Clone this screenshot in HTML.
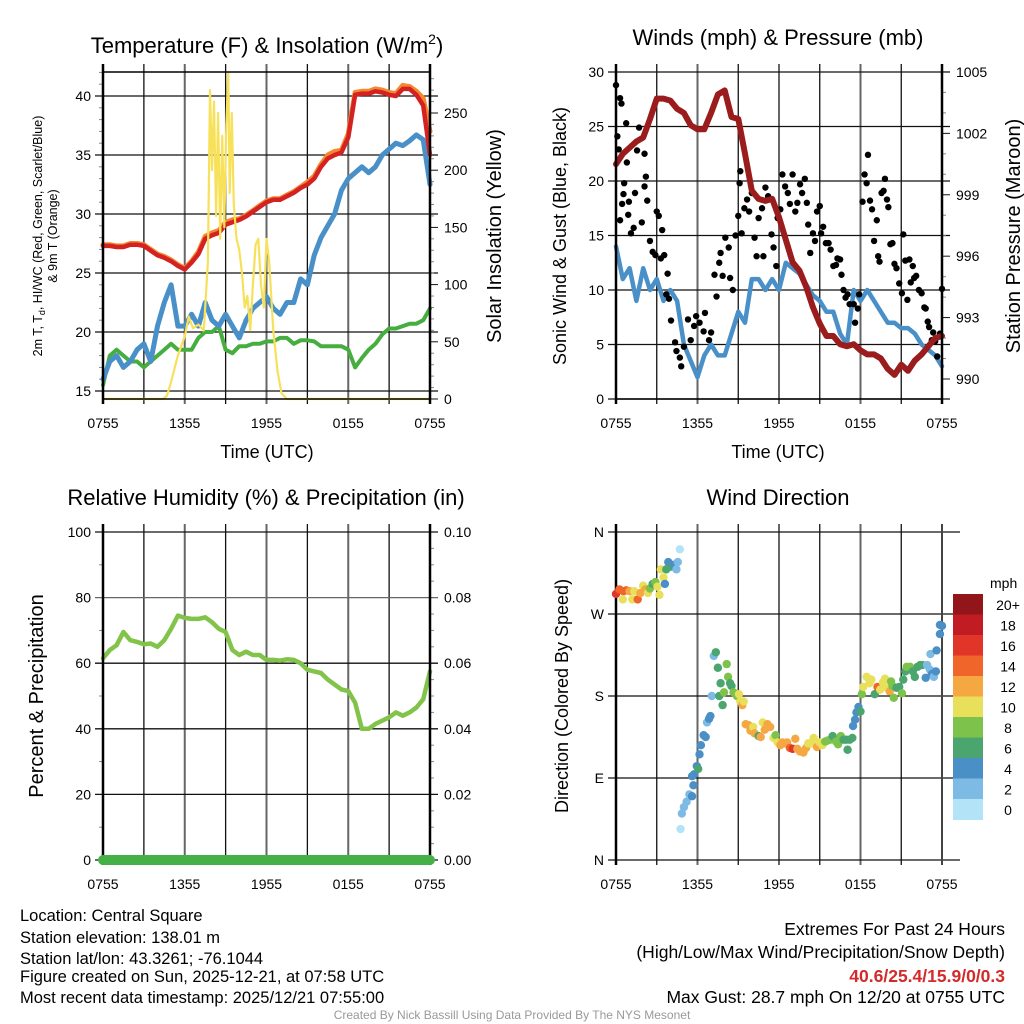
<!DOCTYPE html>
<html><head><meta charset="utf-8">
<style>
html,body{margin:0;padding:0;background:#fff;}
svg{display:block;font-family:"Liberation Sans",Arial,sans-serif;}
</style></head>
<body>
<svg id="chart" width="1024" height="1024" viewBox="0 0 1024 1024" xmlns="http://www.w3.org/2000/svg">
<rect width="1024" height="1024" fill="#fff"/>
<text x="267" y="53" font-size="22" text-anchor="middle">Temperature (F) &amp; Insolation (W/m<tspan font-size="14" dy="-9">2</tspan><tspan dy="9">)</tspan></text>
<text x="778" y="45" font-size="22" text-anchor="middle">Winds (mph) &amp; Pressure (mb)</text>
<text x="266" y="505" font-size="22" text-anchor="middle">Relative Humidity (%) &amp; Precipitation (in)</text>
<text x="778" y="505" font-size="22" text-anchor="middle">Wind Direction</text>

<text x="267" y="458" font-size="18" text-anchor="middle">Time (UTC)</text>
<text x="778" y="458" font-size="18" text-anchor="middle">Time (UTC)</text>

<text transform="translate(42,236) rotate(-90)" font-size="12.5" text-anchor="middle">2m T, T<tspan font-size="9" dy="3">d</tspan><tspan dy="-3">, HI/WC (Red, Green, Scarlet/Blue)</tspan></text>
<text transform="translate(57,236) rotate(-90)" font-size="12.5" text-anchor="middle">&amp; 9m T (Orange)</text>
<text transform="translate(501,236) rotate(-90)" font-size="20" text-anchor="middle">Solar Insolation (Yellow)</text>
<text transform="translate(566,236) rotate(-90)" font-size="18" text-anchor="middle">Sonic Wind &amp; Gust (Blue, Black)</text>
<text transform="translate(1020,236) rotate(-90)" font-size="20" text-anchor="middle">Station Pressure (Maroon)</text>
<text transform="translate(43,696) rotate(-90)" font-size="20" text-anchor="middle">Percent &amp; Precipitation</text>
<text transform="translate(568,696) rotate(-90)" font-size="18" text-anchor="middle">Direction (Colored By Speed)</text>

<g font-size="16.5">
<text x="20" y="921">Location: Central Square</text>
<text x="20" y="943">Station elevation: 138.01 m</text>
<text x="20" y="964">Station lat/lon: 43.3261; -76.1044</text>
<text x="20" y="982">Figure created on Sun, 2025-12-21, at 07:58 UTC</text>
<text x="20" y="1003">Most recent data timestamp: 2025/12/21 07:55:00</text>
</g>
<g font-size="17.5" text-anchor="end">
<text x="1005" y="935">Extremes For Past 24 Hours</text>
<text x="1005" y="958">(High/Low/Max Wind/Precipitation/Snow Depth)</text>
<text x="1005" y="982" fill="#d42a2a" font-weight="bold">40.6/25.4/15.9/0/0.3</text>
<text x="1005" y="1003">Max Gust: 28.7 mph On 12/20 at 0755 UTC</text>
</g>
<text x="512" y="1019" font-size="12" fill="#999" text-anchor="middle">Created By Nick Bassill Using Data Provided By The NYS Mesonet</text>
<g id="plots"></g>
</svg>
<script>
// ---- data ----
const halfHours = [0,0.5,1,1.5,2,2.5,3,3.5,4,4.5,5,5.5,6,6.5,7,7.5,8,8.5,9,9.5,10,10.5,11,11.5,12,12.5,13,13.5,14,14.5,15,15.5,16,16.5,17,17.5,18,18.5,19,19.5,20,20.5,21,21.5,22,22.5,23,23.5,24];
const timeTickLabels = ["0755","1355","1955","0155","0755"];
const tempRed = [27.3,27.3,27.2,27.2,27.4,27.4,27.3,26.9,26.5,26.3,26.0,25.6,25.3,25.9,26.6,27.9,28.2,28.4,29.1,29.3,29.5,29.8,30.2,30.6,31.0,31.2,31.2,31.5,31.8,32.2,32.5,33.0,34.0,34.7,35.0,35.2,36.5,40.1,40.2,40.2,40.4,40.3,40.1,40.0,40.6,40.6,40.1,39.2,35.0];
const tempOrange = [27.4,27.4,27.3,27.3,27.5,27.5,27.4,27.0,26.6,26.4,26.1,25.7,25.4,26.0,26.8,28.1,28.4,28.6,29.3,29.5,29.6,29.9,30.3,30.7,31.1,31.3,31.3,31.6,31.9,32.3,32.7,33.2,34.2,35.0,35.3,35.4,36.8,40.3,40.4,40.4,40.6,40.5,40.3,40.2,40.9,40.8,40.4,39.8,37.0];
const dewBlue = [16,17.5,18,17,17.5,18.5,19,17.5,20.5,22.5,24.0,20.5,20.5,21.5,20.5,22.5,21,20.5,21.5,20.5,19.5,21,22,22.5,23,22,21.5,22.5,22.5,24.5,24,26.5,28,29,30,32,33,33.5,34,33.5,34,35,35.5,36,35.8,36.2,36.7,36.3,32.5];
const dewGreen = [15.5,18,18.5,18,17.5,17.5,17,17.5,18,18.5,19,18.5,18.5,18.5,19.5,20,20,20.5,18.5,18.2,18.8,18.8,19,19,19.2,19.2,19.5,19.5,19,19.3,19.3,19.2,18.8,18.8,18.8,18.8,18.5,17,17.8,18.5,19,19.8,20.3,20.3,20.5,20.7,20.7,21,22];
const solarHours = [0,4.4,4.7,5,5.5,6,6.3,6.6,7,7.4,7.7,7.85,8,8.15,8.3,8.45,8.6,8.75,8.9,9.05,9.2,9.3,9.45,9.6,9.8,10.0,10.2,10.4,10.6,10.8,11.0,11.2,11.4,11.6,11.8,12.0,12.2,12.5,12.8,13.1,13.5,24];
const solarVals = [0,0,3,15,38,55,72,62,65,60,120,270,200,260,160,250,140,230,150,240,285,180,250,170,140,130,110,80,90,60,100,135,140,100,80,140,120,60,25,5,0,0];
const windBlue = [14,11,12,9,12,10,11,9,10,9,5,3.5,2,4,5,4,4,6,8,7,11,11,10,11,10,12.5,12,11.5,10.5,9.5,9,8,8,6,5,10,9,10,9,8,7,7,6.5,6.5,6,5,4.5,4,3];
const pressure = [1000.5,1001.0,1001.3,1001.6,1001.8,1002.7,1003.7,1003.7,1003.6,1003.2,1003.0,1002.4,1002.2,1002.2,1003.0,1003.9,1004.1,1002.8,1002.7,1001.0,999.2,998.8,998.7,998.8,997.9,996.8,995.7,995.3,994.5,993.5,992.7,992.1,992.1,991.7,991.6,991.7,991.4,991.2,991.2,991.0,990.5,990.2,990.7,990.4,990.9,991.2,991.6,992.0,992.1];
const gustHours = [0,0.1,0.2,0.3,0.4,0.75,0.8,0.6,0.55,0.45,0.3,0.95,0.9,1.1,1.3,1.4,1.55,1.7,1.9,2.1,2.1,2.2,2.3,2.5,2.7,2.9,3.0,3.15,3.3,3.4,3.55,3.8,3.7,3.9,4.05,4.35,4.45,4.7,4.8,5.0,5.3,5.5,5.75,5.9,6.15,6.45,6.55,6.85,7.0,7.25,7.4,7.6,7.7,7.85,8.05,8.3,8.4,8.6,8.8,9.0,9.1,9.15,9.25,9.45,9.65,9.8,10.0,10.2,10.35,10.5,10.75,10.85,11.0,11.2,11.45,11.6,11.8,11.9,12.1,12.25,12.45,12.65,12.8,13.0,13.2,13.35,13.55,13.7,13.9,14.05,14.15,14.3,14.5,14.65,14.8,15.0,15.1,15.25,15.45,15.65,15.8,16.0,16.2,16.3,16.5,16.6,16.75,16.9,17.05,17.2,17.5,17.6,17.8,17.9,18.15,18.3,18.45,18.55,18.7,18.85,19.0,19.2,19.3,19.4,19.55,19.7,19.8,19.95,20.05,20.2,20.35,20.5,20.65,20.85,21.05,21.15,21.3,21.45,21.6,21.7,21.85,21.95,22.1,22.3,22.5,22.7,22.8,22.95,23.05,23.25,23.35,23.5,23.65,23.85,24.0];
const gusts = [28.8,24.1,22.9,27.6,27.1,25.3,21.7,19.8,18.8,17.9,16.4,18.1,16.9,15.2,15.7,18.9,22.8,24.9,16.2,19.5,22.5,20.4,18.2,14.5,13.5,13.2,17.2,16.8,12.9,15.5,13.2,11.5,9.6,9.2,7.2,5.2,4.4,3.8,3.0,4.8,7.3,5.4,6.7,7.6,7.0,6.2,7.9,5.4,6.1,11.4,9.4,12.5,13.4,11.3,14.8,13.9,11.1,10.0,15.0,16.8,19.8,20.9,15.2,17.5,18.3,17.2,18.9,14.8,13.1,16.6,17.5,13.1,19.4,18.6,15.1,13.9,12.2,16.6,17.4,20.6,19.5,18.9,17.9,20.6,17.2,18.0,19.7,18.9,20.2,18.0,16.0,13.4,15.2,14.5,17.2,17.7,15.2,15.8,14.3,14.3,13.7,12.2,12.3,12.9,12.8,11.4,10.0,9.3,9.6,8.7,8.7,7.0,8.3,9.6,18.1,20.6,19.8,22.4,18.2,17.4,14.5,16.4,13.1,12.6,18.9,19.1,20.2,18.3,17.6,14.2,14.3,12.4,12.0,10.6,9.7,15.1,12.7,9.1,12.8,10.7,12.2,11.1,11.3,10.0,9.7,8.4,8.3,7.1,6.6,5.4,6.1,5.3,3.9,6.0,10.1];
const rh = [61.5,64,65.5,69.5,67,66.5,65.8,66,65,67,70.5,74.5,73.8,73.5,73.5,74,72.5,70.5,69.5,64,62.5,63.5,62.5,62.5,61,61,60.8,61.2,61,60,58,57.5,57,55,53.5,52,51.5,48,40,40,41.5,42.5,43.5,45,44,45,46.5,49,57.5];
const precip = [0,0,0,0,0,0,0,0,0,0,0,0,0,0,0,0,0,0,0,0,0,0,0,0,0,0,0,0,0,0,0,0,0,0,0,0,0,0,0,0,0,0,0,0,0,0,0,0,0];
const dirHours = [0,0.25,0.55,0.75,0.5,1.0,1.2,1.35,1.6,1.8,2.0,2.15,2.35,2.5,2.7,2.9,3.05,3.2,3.3,3.5,3.6,3.7,3.85,4.05,4.25,4.45,4.55,4.7,4.75,4.85,5.0,5.2,5.4,5.6,5.7,5.6,5.75,5.95,6.05,6.15,6.25,6.45,6.6,6.7,6.85,6.95,7.05,7.2,7.35,7.5,7.6,7.7,7.85,7.95,8.15,8.25,8.4,8.5,8.65,8.9,9.05,9.15,9.3,9.4,9.55,9.75,9.9,10.1,10.2,10.5,10.65,10.8,10.95,11.15,11.35,11.6,11.75,11.9,12.1,12.25,12.45,12.6,12.8,13.0,13.2,13.35,13.55,13.8,14.0,14.15,14.4,14.55,14.8,15.0,15.2,15.4,15.55,15.75,15.95,16.2,16.35,16.55,16.75,16.95,17.05,17.2,17.4,17.45,17.6,17.7,17.85,18.0,18.1,18.2,18.45,18.65,18.8,19.05,19.25,19.45,19.65,19.8,19.95,20.15,20.25,20.35,20.45,20.65,20.85,21.05,21.15,21.3,21.4,21.65,21.85,22.0,22.2,22.4,22.55,22.8,22.9,23.1,23.25,23.4,23.55,23.15,23.6,23.85,24.0,23.85];
const dirDegrees = [292,297,295,296,286,295,286,295,286,293,301,297,293,298,303,305,300,291,319,310,303,319,327,322,324,319,327,341,34,51,58,64,72,70,82,92,94,103,100,116,126,137,135,151,155,158,180,224,228,211,180,194,170,184,215,201,194,191,184,180,182,174,170,174,149,148,142,146,139,136,135,151,143,149,146,134,137,129,126,129,128,129,123,122,133,122,119,118,123,128,128,134,124,129,126,130,131,132,136,130,127,136,132,132,121,132,134,147,154,162,168,163,182,190,201,194,198,182,190,187,195,199,189,185,196,191,178,189,190,183,198,207,212,212,207,201,212,214,214,200,214,209,204,201,207,226,230,248,257,258];
const dirSpeeds = [17,14,14,14,10,12,10,10,14,12,10,12,10,8,6,8,10,10,10,10,4,6,4,6,4,2,2,0,0,2,2,2,2,4,4,4,4,4,6,4,4,4,4,2,4,4,2,2,6,6,6,6,6,8,8,8,6,6,8,8,10,10,12,10,12,12,12,10,12,6,12,10,12,12,12,10,8,10,12,12,12,12,14,16,12,12,12,12,12,10,10,10,12,10,10,8,8,8,6,8,8,8,6,6,6,6,6,4,4,4,4,6,8,10,10,10,10,6,14,10,10,10,10,12,8,8,8,6,6,8,6,6,8,8,6,6,6,6,6,4,2,2,4,2,4,2,4,4,4,4,4,4];
const speedBins = ["0","2","4","6","8","10","12","14","16","18","20+"];
const binColors = ["#b3e3f7","#7dbbe5","#4a8fc6","#4aa56e","#7dc24a","#e8e05a","#f5a742","#f06529","#e03528","#c11b24","#921519"];

const NS="http://www.w3.org/2000/svg";
const root=document.getElementById('plots');
function mk(tag,attrs,parent){const e=document.createElementNS(NS,tag);for(const k in attrs)e.setAttribute(k,attrs[k]);(parent||root).appendChild(e);return e;}
function txt(s,attrs,parent){const e=mk('text',attrs,parent);e.textContent=s;return e;}

function panel(name,L,R,T,B){
  const g=mk('g',{});
  
  
  const xs=h=>L+(R-L)*h/24;
  for(let h=0;h<=24;h+=3){
    const ln=mk('line',{x1:xs(h),x2:xs(h),y1:T-8,y2:B+5,stroke:(h%6===0?'#666':'#111'),'stroke-width':(h%6===0?2:1.3)},g);
    
    
  }
  timeTickLabels.forEach((lab,i)=>{
    const t=txt(lab,{x:xs(i*6),y:B+29,'font-size':14,'text-anchor':'middle'},g);
    
    
  });
  return {g,xs};
}
function hgrid(g,L,R,y,lab,side,color){
  mk('line',{x1:L-8,x2:R+8,y1:y,y2:y,stroke:color||'#111','stroke-width':1.3},g);
  if(lab!==null){
    const t=txt(lab,{x:side==='r'?R+14:L-12,y:y+5,'font-size':14,'text-anchor':side==='r'?'start':'end'},g);
    
    
  }
}
function pathOf(xv,yv,xs,ys){return xv.map((h,i)=>(i?'L':'M')+xs(h).toFixed(1)+','+ys(yv[i]).toFixed(1)).join('');}
function line(g,name,xv,yv,xs,ys,color,w){
  const p=mk('path',{d:pathOf(xv,yv,xs,ys),fill:'none',stroke:color,'stroke-width':w,'stroke-linejoin':'round','stroke-linecap':'round'},g);
  
  
}

// ---- Panel 1: temperature ----
(function(){
  const L=103,R=430,T=72,B=399;
  const {g,xs}=panel('temperature-panel',L,R,T,B);
  const ys=v=>96+(40-v)*11.8;
  const ysR=v=>B-v*1.144;
  [15,20,25,30,35,40].forEach(v=>hgrid(g,L,R,ys(v),String(v),'l'));
  [0,50,100,150,200,250].forEach(v=>{mk('line',{x1:R,x2:R+8,y1:ysR(v),y2:ysR(v),stroke:'#111'},g);txt(String(v),{x:R+14,y:ysR(v)+5,'font-size':14},g);});
  for(let v=10;v<290;v+=10){if(v%50)mk('line',{x1:R,x2:R+4,y1:ysR(v),y2:ysR(v),stroke:'#888'},g);}
  for(let v=15;v<=42;v++){if(v%5)mk('line',{x1:L-4,x2:L,y1:ys(v),y2:ys(v),stroke:'#888'},g);}
  line(g,'dewpoint-green-line',halfHours,dewGreen,xs,ys,'#46ad3f',4);
  line(g,'windchill-blue-line',halfHours,dewBlue,xs,ys,'#4a90c8',5);
  line(g,'temp-9m-orange-line',halfHours,tempOrange,xs,ys,'#f5872f',5);
  line(g,'temp-2m-red-line',halfHours,tempRed,xs,ys,'#d42222',4.5);
  line(g,'solar-yellow-line',solarHours,solarVals,xs,ysR,'#f7e15a',2.2);
  mk('rect',{x:L,y:T,width:R-L,height:B-T,fill:'none',stroke:'#000','stroke-width':1.5},g);
  mk('line',{x1:L,x2:L,y1:T-8,y2:B+5,stroke:'#000','stroke-width':2.5},g);
  mk('line',{x1:R,x2:R,y1:T-8,y2:B+5,stroke:'#000','stroke-width':2.5},g);
})();

// ---- Panel 2: winds ----
(function(){
  const L=616,R=942,T=72,B=399;
  const {g,xs}=panel('wind-panel',L,R,T,B);
  const ys=v=>B-v*10.9;
  const ysR=v=>379-(v-990)*20.47;
  [0,5,10,15,20,25,30].forEach(v=>hgrid(g,L,R,ys(v),String(v),'l'));
  [990,993,996,999,1002,1005].forEach(v=>{mk('line',{x1:R,x2:R+8,y1:ysR(v),y2:ysR(v),stroke:'#111'},g);txt(String(v),{x:R+14,y:ysR(v)+5,'font-size':14},g);});
  for(let v=990;v<1005;v++){if(v%3)mk('line',{x1:R,x2:R+4,y1:ysR(v),y2:ysR(v),stroke:'#888'},g);}
  line(g,'sonic-wind-blue-line',halfHours,windBlue,xs,ys,'#4a90c8',4.5);
  gustHours.forEach((h,i)=>{
    const c=mk('circle',{cx:xs(h),cy:ys(gusts[i]),r:3.2,fill:'#000'},g);
    
    
  });
  line(g,'pressure-maroon-line',halfHours,pressure,xs,ysR,'#9b1c1c',6);
  mk('line',{x1:L,x2:L,y1:T-8,y2:B+5,stroke:'#000','stroke-width':2.5},g);
  mk('line',{x1:R,x2:R,y1:T-8,y2:B+5,stroke:'#000','stroke-width':2.5},g);
  mk('line',{x1:L,x2:R,y1:B,y2:B,stroke:'#000','stroke-width':1.5},g);
})();

// ---- Panel 3: RH ----
(function(){
  const L=103,R=430,T=532,B=860;
  const {g,xs}=panel('humidity-panel',L,R,T,B);
  const ys=v=>B-v*3.28;
  const ysR=v=>B-v*3280;
  [0,20,40,60,80,100].forEach(v=>hgrid(g,L,R,ys(v),String(v),'l',v===80?'#666':'#111'));
  [0,0.02,0.04,0.06,0.08,0.10].forEach(v=>txt(v.toFixed(2),{x:R+14,y:ysR(v)+5,'font-size':14},g));
  for(let v=10;v<100;v+=10){if(v%20)mk('line',{x1:L-4,x2:L,y1:ys(v),y2:ys(v),stroke:'#888'},g);}
  for(let v=5;v<100;v+=5){if(v%20)mk('line',{x1:R,x2:R+4,y1:ys(v),y2:ys(v),stroke:'#888'},g);}
  line(g,'humidity-line',halfHours,rh,xs,ys,'#82c34a',4.5);
  mk('line',{x1:L,x2:L,y1:T-8,y2:B+5,stroke:'#000','stroke-width':2.5},g);
  mk('line',{x1:R,x2:R,y1:T-8,y2:B+5,stroke:'#000','stroke-width':2.5},g);
  mk('line',{x1:L,x2:R,y1:B,y2:B,stroke:'#222','stroke-width':2},g);
  line(g,'precipitation-line',halfHours,precip,xs,ysR,'#45b045',10);
})();

// ---- Panel 4: wind direction ----
(function(){
  const L=616,R=942,T=532,B=860;
  const {g,xs}=panel('direction-panel',L,R,T,B);
  const ys=v=>B-v*(B-T)/360;
  [[0,'N'],[90,'E'],[180,'S'],[270,'W'],[360,'N']].forEach(([v,l])=>hgrid(g,L,R+10,ys(v),l,'l'));
  mk('line',{x1:L,x2:L,y1:T-8,y2:B+5,stroke:'#000','stroke-width':2.5},g);
  mk('line',{x1:R,x2:R,y1:T-8,y2:B+5,stroke:'#444','stroke-width':2},g);
  dirHours.forEach((h,i)=>{
    const sp=(dirSpeeds[i]===undefined)?4:dirSpeeds[i];
    const bin=Math.min(10,Math.floor(sp/2));
    const c=mk('circle',{cx:xs(h),cy:ys(dirDegrees[i]),r:4.2,fill:binColors[bin]},g);
    
    
  });
  const lg=mk('g',{},g);
  
  
  txt('mph',{x:990,y:588,'font-size':14},lg);
  const top=594,h=20.5;
  for(let k=0;k<11;k++){
    const idx=10-k;
    mk('rect',{x:953,y:top+k*h,width:30,height:h+0.5,fill:binColors[idx]},lg);
    txt(speedBins[idx],{x:1008,y:top+k*h+16,'font-size':14,'text-anchor':'middle'},lg);
  }
})();
</script>
</body></html>
